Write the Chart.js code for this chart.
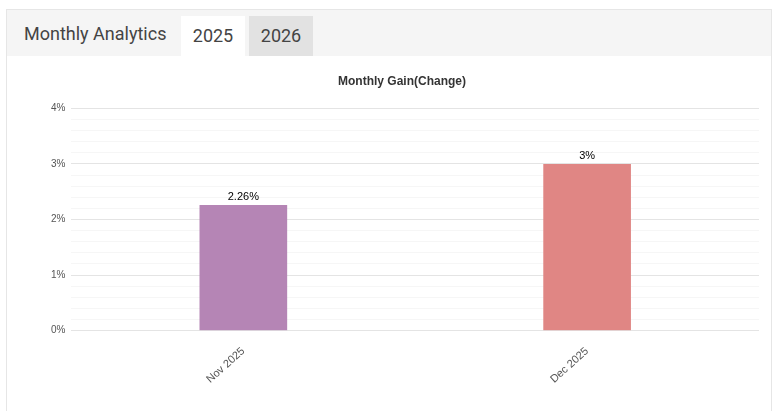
<!DOCTYPE html>
<html><head><meta charset="utf-8">
<script src="https://cdn.jsdelivr.net/npm/chart.js@4/dist/chart.umd.min.js"></script>
<style>
body{margin:0;background:#fff;font-family:Roboto,Arial,sans-serif;}
#wrap{position:absolute;left:6px;top:9px;width:764px;height:410px;border:1px solid #e6e6e6;border-bottom:none;}
#bar{height:46px;background:#f5f5f5;position:relative;}
.t{position:absolute;top:0;height:46px;line-height:48px;font-size:18px;color:#444;}
#cv{position:absolute;left:0;top:46px;width:764px;height:356px;}
</style></head><body>
<div id="wrap"><div id="bar">
<div class="t" style="left:17px;">Monthly Analytics</div>
<div class="t" style="left:174px;width:64px;background:#fff;text-align:center;top:6px;height:40px;line-height:40px;">2025</div>
<div class="t" style="left:242px;width:64px;background:#e2e2e2;text-align:center;top:6px;height:40px;line-height:40px;">2026</div>
</div>
<div id="cv"><canvas id="c"></canvas></div></div>
<script>
const categories=["Nov 2025","Dec 2025"];
const gains=[2.26,3];
const barColors=["#b585b5","#e08684"];
const valueLabels=["2.26%","3%"];
const lbl={id:'lbl',afterDatasetsDraw(ch){const c=ch.ctx;c.save();c.font='11px Arial';c.fillStyle='#000';c.textAlign='center';c.textBaseline='bottom';
ch.getDatasetMeta(0).data.forEach((b,i)=>c.fillText(valueLabels[i],b.x,b.y-3));c.restore();}};
new Chart(document.getElementById('c'),{type:'bar',data:{labels:categories,datasets:[{data:gains,backgroundColor:barColors,barPercentage:0.255,categoryPercentage:1}]},
options:{responsive:true,maintainAspectRatio:false,animation:false,
layout:{padding:{left:38,right:12,top:10,bottom:20}},
plugins:{legend:{display:false},tooltip:{enabled:false},title:{display:true,text:'Monthly Gain(Change)',font:{size:12,weight:'bold',family:'Arial'},color:'#333',padding:{top:8,bottom:20}}},
scales:{y:{min:0,max:4,ticks:{stepSize:0.2,autoSkip:false,color:'#555',font:{size:10,family:'Arial'},padding:6,callback:v=>Math.abs(v-Math.round(v))<1e-6?Math.round(v)+'%':''},
grid:{drawTicks:false,color:c=>Math.abs(c.tick.value-Math.round(c.tick.value))<1e-6?'#e4e4e4':'#f6f6f6'},border:{display:false}},
x:{grid:{display:false},border:{display:false},ticks:{color:'#555',font:{size:11,family:'Arial'},maxRotation:42,minRotation:42,padding:6}}}},plugins:[lbl]});
</script></body></html>
